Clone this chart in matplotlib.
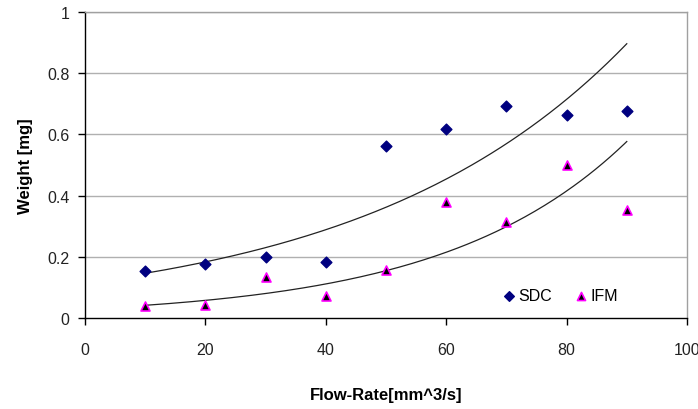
import matplotlib

matplotlib.use("Agg")
import matplotlib.pyplot as plt
import numpy as np

plt.rcParams["font.family"] = ["Liberation Sans", "DejaVu Sans"]

flow_rate = [10, 20, 30, 40, 50, 60, 70, 80, 90]
sdc_weight = [0.155, 0.176, 0.198, 0.182, 0.562, 0.618, 0.694, 0.664, 0.676]
ifm_weight = [0.038, 0.042, 0.133, 0.071, 0.158, 0.379, 0.315, 0.501, 0.353]
x_ticks = [0, 20, 40, 60, 80, 100]
y_ticks = [0, 0.2, 0.4, 0.6, 0.8, 1]


def exp_trend(x, y):
    # Excel-style exponential trendline: linear fit of ln(y)
    slope, intercept = np.polyfit(x, np.log(y), 1)
    xs = np.linspace(min(x), max(x), 200)
    return xs, np.exp(intercept + slope * xs)


fig = plt.figure(figsize=(6.98, 4.10), dpi=100)
ax = fig.add_axes([0.1218, 0.222, 0.8624, 0.7463])

for y in y_ticks[1:]:
    ax.axhline(y, color="#b0b0b0", linewidth=1.0, zorder=0)

for values in (sdc_weight, ifm_weight):
    xs, ys = exp_trend(flow_rate, values)
    ax.plot(xs, ys, color="#222222", linewidth=0.9, zorder=2)

ax.scatter(flow_rate, sdc_weight, marker="D", s=30, color="#000080",
           label="SDC", zorder=3)
ax.scatter(flow_rate, ifm_weight, marker="^", s=42, color="black",
           edgecolors="#ff00ff", linewidths=1.2, label="IFM", zorder=3)

ax.set_xlim(0, 100)
ax.set_ylim(0, 1)
ax.set_xticks(x_ticks)
ax.set_yticks(y_ticks)
ax.set_yticklabels(["0", "0.2", "0.4", "0.6", "0.8", "1"])
ax.tick_params(direction="out", length=5, width=1, labelsize=11.5,
               labelcolor="#222222", pad=6)
ax.tick_params(axis="x", pad=12)

for side in ("left", "bottom"):
    ax.spines[side].set_color("black")
    ax.spines[side].set_linewidth(1.0)
for side in ("top", "right"):
    ax.spines[side].set_color("#a0a0a0")
    ax.spines[side].set_linewidth(1.0)

ax.set_xlabel("Flow-Rate[mm^3/s]", fontsize=12, fontweight="bold", labelpad=22)
ax.set_ylabel("Weight [mg]", fontsize=12, fontweight="bold", labelpad=10)

ax.legend(loc="center left", bbox_to_anchor=(0.677, 0.072), ncol=2, frameon=False,
          fontsize=11.5, handlelength=1.0, handletextpad=0.1, columnspacing=1.3,
          borderpad=0, markerscale=0.9)

fig.savefig("out.png", dpi=100)
